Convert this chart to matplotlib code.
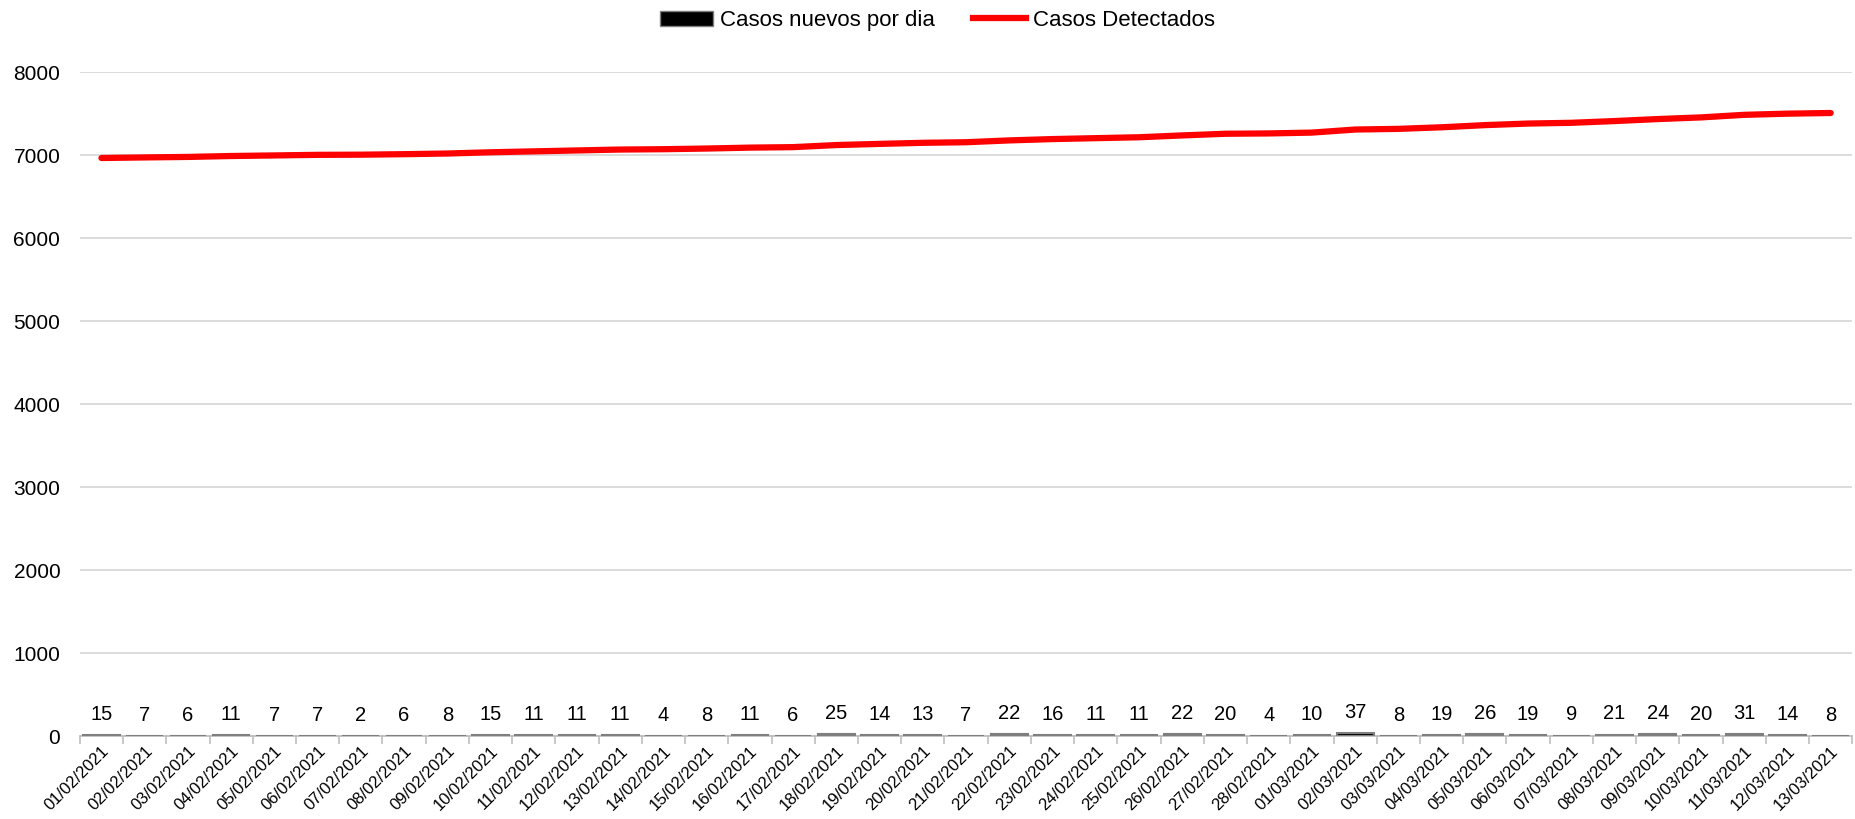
import matplotlib.pyplot as plt
from matplotlib.lines import Line2D
from matplotlib.patches import Patch

# Datos
fechas = [
    "01/02/2021", "02/02/2021", "03/02/2021", "04/02/2021", "05/02/2021", "06/02/2021",
    "07/02/2021", "08/02/2021", "09/02/2021", "10/02/2021", "11/02/2021", "12/02/2021",
    "13/02/2021", "14/02/2021", "15/02/2021", "16/02/2021", "17/02/2021", "18/02/2021",
    "19/02/2021", "20/02/2021", "21/02/2021", "22/02/2021", "23/02/2021", "24/02/2021",
    "25/02/2021", "26/02/2021", "27/02/2021", "28/02/2021", "01/03/2021", "02/03/2021",
    "03/03/2021", "04/03/2021", "05/03/2021", "06/03/2021", "07/03/2021", "08/03/2021",
    "09/03/2021", "10/03/2021", "11/03/2021", "12/03/2021", "13/03/2021",
]
casos_nuevos = [15, 7, 6, 11, 7, 7, 2, 6, 8, 15, 11, 11, 11, 4, 8, 11, 6, 25, 14, 13, 7,
                22, 16, 11, 11, 22, 20, 4, 10, 37, 8, 19, 26, 19, 9, 21, 24, 20, 31, 14, 8]
casos_detectados = [6965, 6972, 6978, 6989, 6996, 7003, 7005, 7011, 7019, 7034, 7045,
                    7056, 7067, 7071, 7079, 7090, 7096, 7121, 7135, 7148, 7155, 7177,
                    7193, 7204, 7215, 7237, 7257, 7261, 7271, 7308, 7316, 7335, 7361,
                    7380, 7389, 7410, 7434, 7454, 7485, 7499, 7507]

plt.rcParams['font.family'] = ['Liberation Sans', 'DejaVu Sans']

fig = plt.figure(figsize=(18.56, 8.19), dpi=100)
ax = fig.add_axes([0.043, 0.101, 0.955, 0.811])

x = list(range(len(fechas)))
barras = ax.bar(x, casos_nuevos, width=0.85, color='black', edgecolor='#7f7f7f',
                linewidth=1.5, zorder=3)
ax.bar_label(barras, padding=8, fontsize=14.5)
ax.plot(x, casos_detectados, color='#ff0000', linewidth=4.5, solid_capstyle='round', zorder=4)

ax.set_ylim(0, 8000)
ax.set_yticks(range(0, 8001, 1000))
ax.set_xlim(-0.5, len(fechas) - 0.5)
ax.set_xticks(x)
ax.set_xticklabels(fechas, rotation=45, ha='right', rotation_mode='anchor', fontsize=12)
ax.tick_params(axis='x', length=0, pad=5)
ax.tick_params(axis='y', length=0, labelsize=15, pad=14)
# marcas entre categorias, estilo excel
ax.set_xticks([i - 0.5 for i in range(len(fechas) + 1)], minor=True)
ax.tick_params(axis='x', which='minor', length=6, color='#bfbfbf', width=1.2)

ax.grid(axis='y', color='#d9d9d9', linewidth=1.3, zorder=0)
for lado in ['top', 'right', 'left']:
    ax.spines[lado].set_visible(False)
ax.spines['bottom'].set_color('#bfbfbf')
ax.spines['bottom'].set_linewidth(1.3)

leyenda = [Patch(facecolor='black', edgecolor='#7f7f7f', label='Casos nuevos por dia'),
           Line2D([0], [0], color='#ff0000', linewidth=4.5, label='Casos Detectados')]
fig.legend(handles=leyenda, loc='upper center', bbox_to_anchor=(0.505, 1.012), ncol=2,
           frameon=False, fontsize=16, handlelength=2.4, columnspacing=1.7, handletextpad=0.3)

fig.savefig('out.png', dpi=100)
